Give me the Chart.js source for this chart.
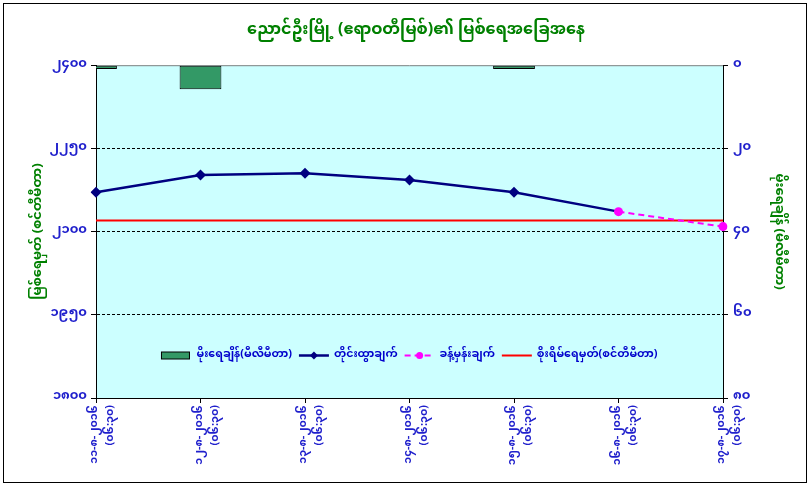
<!DOCTYPE html>
<html>
<head>
<meta charset="utf-8">
<title>ညောင်ဦးမြို့ မြစ်ရေအခြေအနေ</title>
<script src="https://cdn.jsdelivr.net/npm/chart.js@4.4.0/dist/chart.umd.min.js"></script>
<style>
  html, body { margin: 0; padding: 0; background: #fff; }
  canvas { display: block; }
</style>
</head>
<body>
<canvas id="levelChart" width="812" height="490"></canvas>
<script>
// observation days (Myanmar digits) and reading time
const dates = ['၁၁-၈-၂၀၁၆', '၁၂-၈-၂၀၁၆', '၁၃-၈-၂၀၁၆', '၁၄-၈-၂၀၁၆', '၁၅-၈-၂၀၁၆', '၁၆-၈-၂၀၁၆', '၁၇-၈-၂၀၁၆'];
const obsTime = '(၀၆:၃၀)';

// rainfall in mm (right axis), water level in cm (left axis)
const rainfall = [0.9, 5.8, 0, 0, 0.9, 0, 0];
const measured = [2171, 2202, 2205, 2193, 2171, 2136, null];
const forecast = [null, null, null, null, null, 2136, 2109];
const dangerLevel = [2120, 2120, 2120, 2120, 2120, 2120, 2120];

const levelTicks = [1800, 1950, 2100, 2250, 2400];
const rainTicks = [0, 20, 40, 60, 80];

const mmDigits = '၀၁၂၃၄၅၆၇၈၉';
const toMm = n => String(n).replace(/\d/g, d => mmDigits[d]);

const mmFont = '"Noto Sans Myanmar", "Myanmar Text", Padauk, "DejaVu Sans", sans-serif';
const tickBlue = '#2020cc';
const titleGreen = '#008000';
const forecastStart = forecast.findIndex(v => v !== null);

// cyan plot area, grey top edge, outer frame
const plotBackground = {
  id: 'plotBackground',
  beforeDraw(chart) {
    const { ctx, chartArea: a } = chart;
    ctx.save();
    ctx.fillStyle = '#fff';
    ctx.fillRect(0, 0, chart.width, chart.height);
    ctx.strokeStyle = '#000';
    ctx.lineWidth = 1;
    ctx.strokeRect(3.5, 3.5, chart.width - 9, chart.height - 11);
    ctx.fillStyle = '#ccffff';
    ctx.fillRect(a.left, a.top, a.width, a.height);
    ctx.strokeStyle = '#808080';
    ctx.beginPath();
    ctx.moveTo(a.left, a.top + 0.5);
    ctx.lineTo(a.right, a.top + 0.5);
    ctx.stroke();
    ctx.restore();
  }
};

// legend drawn inside the plot, near the bottom
const innerLegend = {
  id: 'innerLegend',
  afterDatasetsDraw(chart) {
    const { ctx, chartArea: a } = chart;
    const iconW = 30, gap = 5, spacing = 7;
    ctx.save();
    ctx.font = 'bold 11px ' + mmFont;
    const items = chart.data.datasets.map(ds => ({ ds, w: iconW + gap + ctx.measureText(ds.label).width }));
    const total = items.reduce((s, it) => s + it.w, 0) + spacing * (items.length - 1);
    let x = (a.left + a.right) / 2 - total / 2;
    const y = Math.round(a.top + a.height * 0.871) + 0.5;
    items.forEach(({ ds, w }) => {
      const cx = x + iconW / 2;
      if (ds.type === 'bar') {
        ctx.fillStyle = ds.backgroundColor;
        ctx.fillRect(x, y - 3.5, iconW - 2, 7);
        ctx.strokeStyle = ds.borderColor;
        ctx.lineWidth = 1;
        ctx.strokeRect(x, y - 3.5, iconW - 2, 7);
      } else {
        ctx.strokeStyle = ds.borderColor;
        ctx.lineWidth = ds.borderWidth;
        ctx.setLineDash(ds.borderDash || []);
        ctx.beginPath();
        ctx.moveTo(x, y);
        ctx.lineTo(x + iconW, y);
        ctx.stroke();
        ctx.setLineDash([]);
        ctx.fillStyle = ds.backgroundColor;
        if (ds.pointStyle === 'rectRot') {
          ctx.beginPath();
          ctx.moveTo(cx, y - 4); ctx.lineTo(cx + 4, y); ctx.lineTo(cx, y + 4); ctx.lineTo(cx - 4, y);
          ctx.closePath();
          ctx.fill();
        } else if (ds.pointStyle === 'circle') {
          ctx.beginPath();
          ctx.arc(cx, y, 3.5, 0, Math.PI * 2);
          ctx.fill();
        }
      }
      ctx.fillStyle = '#0000cc';
      ctx.textBaseline = 'middle';
      ctx.fillText(ds.label, x + iconW + gap, y);
      x += w + spacing;
    });
    ctx.restore();
  }
};

const ctx = document.getElementById('levelChart').getContext('2d');

new Chart(ctx, {
  data: {
    labels: dates.map(d => [d, obsTime]),
    datasets: [
      {
        type: 'bar',
        label: 'မိုးရေချိန်(မီလီမီတာ)',
        data: rainfall,
        yAxisID: 'yRain',
        backgroundColor: '#339966',
        borderColor: '#000',
        borderWidth: 1,
        borderSkipped: false,
        barPercentage: 1,
        categoryPercentage: 0.4,
        clip: 0,
        order: 4
      },
      {
        type: 'line',
        label: 'တိုင်းထွာချက်',
        data: measured,
        yAxisID: 'yLevel',
        borderColor: '#000080',
        backgroundColor: '#000080',
        borderWidth: 2.5,
        pointStyle: 'rectRot',
        pointRadius: c => (c.dataIndex === forecastStart ? 0 : 5.5),
        pointBorderWidth: 0,
        tension: 0,
        order: 2
      },
      {
        type: 'line',
        label: 'ခန့်မှန်းချက်',
        data: forecast,
        yAxisID: 'yLevel',
        borderColor: '#ff00ff',
        backgroundColor: '#ff00ff',
        borderWidth: 2,
        borderDash: [6, 4],
        pointStyle: 'circle',
        pointRadius: 4.5,
        pointBorderWidth: 0,
        order: 1
      },
      {
        type: 'line',
        label: 'စိုးရိမ်ရေမှတ်(စင်တီမီတာ)',
        data: dangerLevel,
        yAxisID: 'yLevel',
        borderColor: '#ff0000',
        backgroundColor: '#ff0000',
        borderWidth: 2,
        pointRadius: 0,
        order: 3
      }
    ]
  },
  options: {
    responsive: false,
    animation: false,
    layout: { padding: { left: 24, right: 4, top: 5, bottom: 10 } },
    plugins: {
      legend: { display: false },
      tooltip: { enabled: false },
      title: {
        display: true,
        text: 'ညောင်ဦးမြို့ (ဧရာဝတီမြစ်)၏ မြစ်ရေအခြေအနေ',
        color: titleGreen,
        font: { family: mmFont, size: 16, weight: 'bold' },
        padding: { top: 18, bottom: 23 }
      }
    },
    scales: {
      x: {
        offset: false,
        grid: { offset: false, drawOnChartArea: false, color: '#000', tickColor: '#000', tickLength: 5 },
        border: { color: '#000', width: 1 },
        ticks: {
          autoSkip: false,
          minRotation: 90,
          maxRotation: 90,
          padding: 2,
          color: tickBlue,
          font: { family: mmFont, size: 11, weight: 'bold', lineHeight: 1.45 }
        },
        afterFit: s => { s.height = 82; }
      },
      yLevel: {
        position: 'left',
        min: levelTicks[0],
        max: levelTicks[levelTicks.length - 1],
        ticks: {
          stepSize: levelTicks[1] - levelTicks[0],
          callback: v => toMm(v),
          color: tickBlue,
          padding: 4,
          font: { family: mmFont, size: 13, weight: 'bold' }
        },
        grid: {
          color: c => (c.index === 0 || c.index === levelTicks.length - 1 ? 'rgba(0,0,0,0)' : '#000'),
          tickColor: '#000',
          tickLength: 5,
          lineWidth: 1
        },
        border: { color: '#000', width: 1, dash: [3, 2] },
        title: {
          display: true,
          text: 'မြစ်ရေမှတ် (စင်တီမီတာ)',
          color: titleGreen,
          font: { family: mmFont, size: 13, weight: 'bold' },
          padding: { top: 8, bottom: 0 }
        },
        afterFit: s => { s.width = 72; }
      },
      yRain: {
        position: 'right',
        reverse: true,
        min: rainTicks[0],
        max: rainTicks[rainTicks.length - 1],
        ticks: {
          stepSize: rainTicks[1] - rainTicks[0],
          callback: v => toMm(v),
          color: tickBlue,
          padding: 5,
          font: { family: mmFont, size: 13, weight: 'bold' }
        },
        grid: { drawOnChartArea: false, tickColor: '#000', tickLength: 5 },
        border: { color: '#000', width: 1 },
        title: {
          display: true,
          text: 'မိုးရေချိန် (မီလီမီတာ)',
          color: titleGreen,
          font: { family: mmFont, size: 13, weight: 'bold' },
          padding: { top: 23, bottom: 0 }
        },
        afterFit: s => { s.width = 85; }
      }
    }
  },
  plugins: [plotBackground, innerLegend]
});
</script>
</body>
</html>
